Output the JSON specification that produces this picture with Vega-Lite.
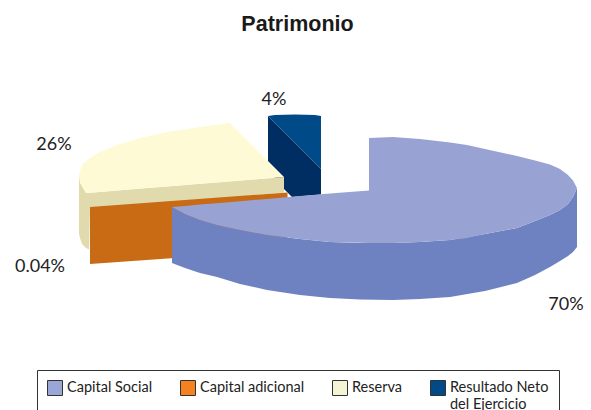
{
"$schema":"https://vega.github.io/schema/vega-lite/v6.json",
"width":591,"height":374,
"autosize":{"type":"none"},
"padding":{"left":0,"right":0,"top":36,"bottom":0},
"background":"white",
"title":{"text":"Patrimonio","font":"Liberation Sans","fontWeight":"bold","fontSize":21.5,"color":"#1a1a1a","anchor":"middle","offset":1,"dx":2},
"config":{"view":{"stroke":null}},
"datasets":{
"slices":[
{"series":"Capital Social","label":"70%","lx":566,"ly":305},
{"series":"Capital adicional","label":"0.04%","lx":40,"ly":267},
{"series":"Reserva","label":"26%","lx":54,"ly":145},
{"series":"Resultado Neto del Ejercicio","label":"4%","lx":274,"ly":100}
],
"faces":[
{"face":"neto side","x":268,"y":116,"y2":170},
{"face":"neto side","x":284,"y":132,"y2":189},
{"face":"neto side","x":292,"y":140,"y2":197},
{"face":"neto side","x":321,"y":169,"y2":194.5},
{"face":"neto top","x":268,"y":116,"y2":116},
{"face":"neto top","x":275,"y":115,"y2":123},
{"face":"neto top","x":295,"y":114.5,"y2":143},
{"face":"neto top","x":315,"y":115,"y2":163},
{"face":"neto top","x":321,"y":116,"y2":169},
{"face":"reserva side","x":79,"y":173,"y2":233},
{"face":"reserva side","x":80,"y":183,"y2":238},
{"face":"reserva side","x":82,"y":186,"y2":244},
{"face":"reserva side","x":86,"y":193,"y2":248},
{"face":"reserva side","x":89,"y":192.8,"y2":249.5},
{"face":"reserva side","x":90,"y":192.7,"y2":210},
{"face":"reserva side","x":284,"y":177,"y2":192.5},
{"face":"reserva top","x":79,"y":173,"y2":173},
{"face":"reserva top","x":80,"y":171,"y2":183},
{"face":"reserva top","x":82,"y":165,"y2":186},
{"face":"reserva top","x":86,"y":161,"y2":193},
{"face":"reserva top","x":90,"y":158,"y2":192.7},
{"face":"reserva top","x":100,"y":152,"y2":191.9},
{"face":"reserva top","x":117,"y":145,"y2":190.5},
{"face":"reserva top","x":140,"y":138,"y2":188.6},
{"face":"reserva top","x":167,"y":132,"y2":186.5},
{"face":"reserva top","x":200,"y":127,"y2":183.8},
{"face":"reserva top","x":230,"y":123,"y2":181.4},
{"face":"reserva top","x":257,"y":150,"y2":179.2},
{"face":"reserva top","x":284,"y":177,"y2":177},
{"face":"adicional","x":90,"y":207,"y2":264},
{"face":"adicional","x":287.5,"y":192.5,"y2":250},
{"face":"social side","x":172,"y":207,"y2":263},
{"face":"social side","x":185,"y":214,"y2":268},
{"face":"social side","x":200,"y":220,"y2":273},
{"face":"social side","x":217,"y":225,"y2":277},
{"face":"social side","x":240,"y":230,"y2":284},
{"face":"social side","x":267,"y":235,"y2":290},
{"face":"social side","x":300,"y":239,"y2":295},
{"face":"social side","x":330,"y":242,"y2":298},
{"face":"social side","x":360,"y":243,"y2":299.5},
{"face":"social side","x":393,"y":243,"y2":300},
{"face":"social side","x":420,"y":242,"y2":299},
{"face":"social side","x":450,"y":240,"y2":297},
{"face":"social side","x":485,"y":234,"y2":291},
{"face":"social side","x":517,"y":228,"y2":283},
{"face":"social side","x":535,"y":221,"y2":275},
{"face":"social side","x":550,"y":215,"y2":267},
{"face":"social side","x":560,"y":210,"y2":261},
{"face":"social side","x":568,"y":204,"y2":256},
{"face":"social side","x":573,"y":197,"y2":252},
{"face":"social side","x":577,"y":188,"y2":247},
{"face":"social top","x":172,"y":207,"y2":207},
{"face":"social top","x":185,"y":205.9,"y2":214},
{"face":"social top","x":200,"y":204.6,"y2":220},
{"face":"social top","x":217,"y":203.2,"y2":225},
{"face":"social top","x":240,"y":201.2,"y2":230},
{"face":"social top","x":267,"y":198.9,"y2":235},
{"face":"social top","x":300,"y":196.1,"y2":239},
{"face":"social top","x":330,"y":193.5,"y2":242},
{"face":"social top","x":369,"y":190.5,"y2":243},
{"face":"social top","x":369.01,"y":138,"y2":243},
{"face":"social top","x":393,"y":137,"y2":243},
{"face":"social top","x":420,"y":139,"y2":242},
{"face":"social top","x":450,"y":142.5,"y2":240},
{"face":"social top","x":467,"y":145,"y2":238},
{"face":"social top","x":485,"y":149,"y2":234},
{"face":"social top","x":517,"y":156,"y2":228},
{"face":"social top","x":535,"y":160.5,"y2":221},
{"face":"social top","x":550,"y":164.5,"y2":215},
{"face":"social top","x":560,"y":169,"y2":210},
{"face":"social top","x":568,"y":175,"y2":204},
{"face":"social top","x":573,"y":180.5,"y2":197},
{"face":"social top","x":577,"y":188,"y2":188}
]},
"layer":[
{"data":{"name":"faces"},
"mark":{"type":"area","interpolate":"linear","clip":false,"opacity":1},
"encoding":{
"x":{"field":"x","type":"quantitative","scale":{"domain":[0,591],"nice":false,"zero":false},"axis":null},
"y":{"field":"y","type":"quantitative","stack":null,"scale":{"domain":[36,410],"reverse":true,"nice":false,"zero":false},"axis":null},
"y2":{"field":"y2"},
"fill":{"field":"face","type":"nominal","legend":null,"sort":null,
"scale":{"domain":["neto side","neto top","reserva side","reserva top","adicional","social side","social top"],
"range":["#002D62","#004A87","#E0DAAC","#FFFAD6","#C96A14","#6E82C1","#98A3D4"]}}
}},
{"data":{"name":"slices"},
"mark":{"type":"point","filled":true,"shape":"square","opacity":0},
"encoding":{
"x":{"field":"lx","type":"quantitative"},
"y":{"field":"ly","type":"quantitative"},
"color":{"field":"series","type":"nominal",
"scale":{"domain":["Capital Social","Capital adicional","Reserva","Resultado Neto del Ejercicio"],"range":["#99A6D6","#F58220","#F5F5D5","#004A87"]},
"legend":{"title":null,"orient":"none","legendX":37,"legendY":334,"columns":4,"direction":"horizontal","gridAlign":"none",
"symbolType":"square","symbolSize":225,"symbolOpacity":1,"symbolStrokeColor":"#333333","symbolStrokeWidth":1,
"labelFont":"Lato","labelFontSize":14.5,"labelColor":"#222222","labelOffset":4,"labelLimit":200,
"columnPadding":25,"rowPadding":0,"padding":10,"strokeColor":"#333333","fillColor":"white",
"labelExpr":"datum.label == 'Resultado Neto del Ejercicio' ? ['Resultado Neto','del Ejercicio'] : datum.label"}}
}},
{"data":{"name":"slices"},
"mark":{"type":"text","font":"Lato","fontSize":18,"color":"#222222","align":"center","baseline":"middle"},
"encoding":{
"x":{"field":"lx","type":"quantitative"},
"y":{"field":"ly","type":"quantitative"},
"text":{"field":"label"}
}}
]
}
